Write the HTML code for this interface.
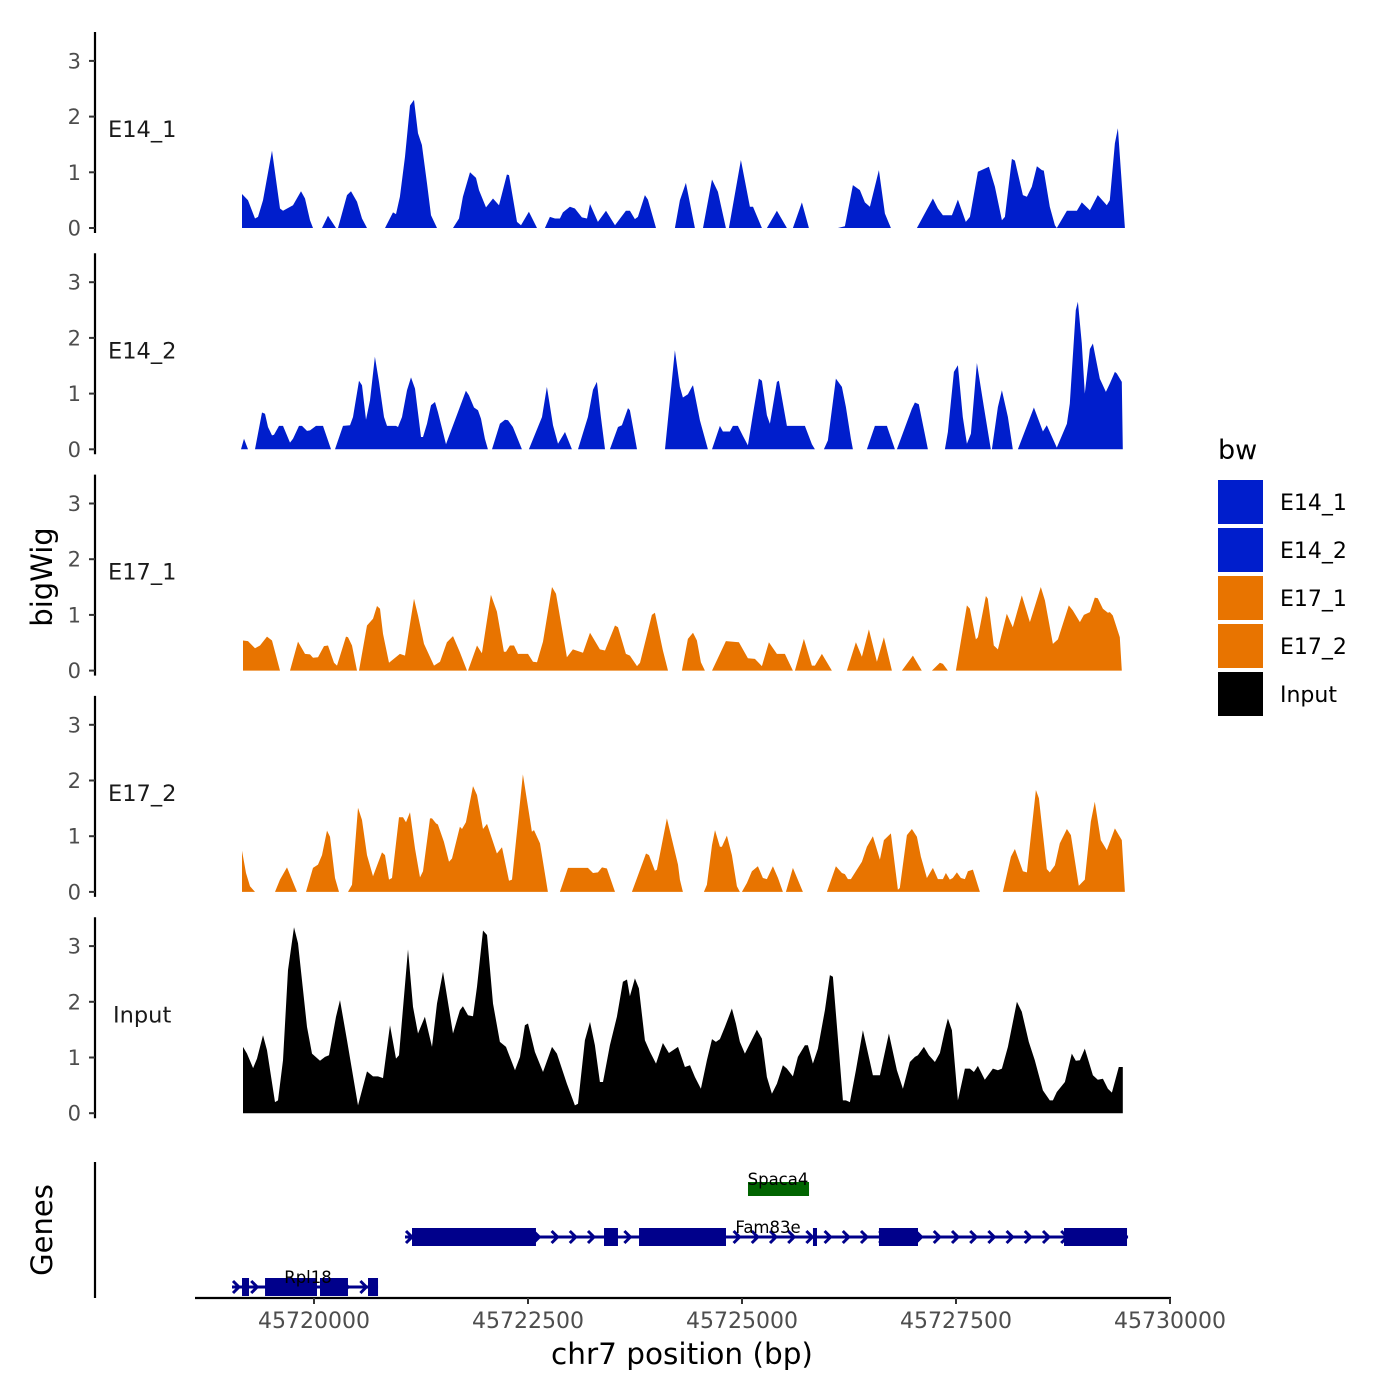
<!DOCTYPE html>
<html><head><meta charset="utf-8"><style>
html,body{margin:0;padding:0;background:#fff;}
svg{display:block;font-family:"DejaVu Sans","Liberation Sans",sans-serif;}
</style></head><body>
<svg id="chart" width="1400" height="1400" viewBox="0 0 1400 1400" xmlns="http://www.w3.org/2000/svg">
<rect width="1400" height="1400" fill="#fff"/>
<g id="tracks"></g>
<g id="genes"></g>
<g id="axes"></g>
<text x="0" y="0" transform="translate(52,577) rotate(-90)" text-anchor="middle" font-size="29" fill="#000">bigWig</text>
<text x="0" y="0" transform="translate(52,1230) rotate(-90)" text-anchor="middle" font-size="29" fill="#000">Genes</text>
<text x="682" y="1364" text-anchor="middle" font-size="29.5" fill="#000">chr7 position (bp)</text>
<g>
<text x="1218" y="459" font-size="27" fill="#000">bw</text>
<rect x="1218" y="480" width="45" height="44" fill="#001ecc"/>
<rect x="1218" y="528" width="45" height="44" fill="#001ecc"/>
<rect x="1218" y="576" width="45" height="44" fill="#e87400"/>
<rect x="1218" y="624" width="45" height="44" fill="#e87400"/>
<rect x="1218" y="672" width="45" height="44" fill="#000"/>
<text x="1280" y="510" font-size="22">E14_1</text>
<text x="1280" y="558" font-size="22">E14_2</text>
<text x="1280" y="606" font-size="22">E17_1</text>
<text x="1280" y="654" font-size="22">E17_2</text>
<text x="1280" y="702" font-size="22">Input</text>
</g>
</svg>
<script>
// positions are bp relative to ORIGIN (chr7:45720000); null separates covered segments
const ORIGIN = 45720000;
const trackNames = ["E14_1","E14_2","E17_1","E17_2","Input"];
const trackColors = ["#001ecc","#001ecc","#e87400","#e87400","#000000"];
const xTickValues = [45720000,45722500,45725000,45727500,45730000];
const yTickValues = [0,1,2,3];

const e14_1_pos = [-841,-771,-689,-654,-596,-491,-397,-362,-245,-152,-105,-47,-12,null,93,164,257,null,280,385,432,502,561,619,null,829,923,958,1004,1063,1121,1168,1215,1261,1320,1367,1437,null,1624,1694,1740,1822,1892,1927,2009,2091,2161,2254,2278,2371,2418,2511,2605,null,2698,2756,2815,2873,2908,2990,3048,3130,3189,3224,3317,3411,3516,3644,3691,3749,3784,3866,3901,3995,null,4216,4275,4345,4450,null,4544,4649,4719,4812,null,4847,4987,5092,5128,5233,null,5291,5408,5525,null,5595,5700,5782,null,6120,6202,6296,6377,6436,6494,6599,6669,6739,null,7043,7230,7288,7347,7452,7522,7615,7662,7756,7884,7954,8036,8071,8153,8188,8281,8328,8386,8445,8503,8526,8596,8655,8678,null,8678,8795,8912,8970,9064,9157,9262,9297,9356,9391,9473];
const e14_1_val = [.61,.5,.17,.2,.5,1.39,.35,.31,.41,.66,.53,.14,0,null,0,.22,0,null,0,.59,.66,.47,.17,0,null,0,.28,.25,.56,1.28,2.2,2.3,1.7,1.49,.8,.23,0,null,0,.17,.56,1.0,.9,.68,.37,.53,.41,.96,.95,.11,.05,.29,0,null,0,.2,.17,.17,.28,.38,.35,.19,.17,.43,.11,.31,.05,.31,.31,.16,.2,.59,.51,0,null,0,.5,.81,0,null,0,.87,.65,0,null,0,1.22,.38,.38,0,null,0,.31,0,null,0,.46,0,null,0,.03,.77,.68,.46,.38,1.04,.26,0,null,0,.53,.35,.23,.23,.51,.11,.2,1.01,1.1,.74,.14,.2,1.24,1.21,.59,.56,.74,1.11,1.04,1.03,.38,.05,0,null,0,.31,.31,.46,.32,.59,.41,.5,1.52,1.79,0];

const e14_2_pos = [-853,-818,-771,null,-689,-607,-572,-537,-491,-467,-409,-362,-280,-245,-175,-140,-82,-47,23,105,199,null,245,339,420,456,526,561,607,654,712,759,818,853,958,981,1028,1086,1133,1180,1250,1273,1320,1367,1413,1448,1542,1565,1682,1775,1810,1869,1916,1951,1997,2032,null,2079,2172,2231,2266,2324,2429,null,2511,2663,2721,2792,2850,2932,3013,null,3084,3200,3259,3305,3352,3399,null,3457,3551,3597,3668,3691,3773,null,4100,4216,4275,4310,4368,4415,4427,4508,4602,null,4649,4742,4777,4859,4894,4952,5011,5069,5128,5198,5233,5291,5326,5408,5431,5525,5735,5817,5852,null,5957,6004,6097,6167,6214,6272,6296,null,6459,6552,6693,6786,null,6809,6985,7020,7066,7172,null,7370,7405,7475,7522,7580,7627,7674,7744,7826,7907,null,7919,7989,8036,8106,8164,null,8223,8410,8515,8561,8678,8795,8830,8900,8924,8970,9005,9064,9099,9145,9180,9251,9297,9356,9379,9437,9449];
const e14_2_val = [0,.19,0,null,0,.66,.64,.4,.25,.26,.42,.42,.12,.19,.42,.42,.33,.34,.42,.42,0,null,0,.42,.43,.58,1.23,1.15,.53,.88,1.66,1.21,.58,.42,.42,.4,.58,1.06,1.29,1.09,.22,.22,.46,.79,.85,.67,.09,.19,.67,1.05,.97,.75,.7,.55,.19,0,null,0,.46,.53,.52,.4,0,null,0,.58,1.12,.43,.1,.31,0,null,0,.58,1.07,1.21,.58,0,null,0,.4,.43,.74,.7,0,null,0,1.78,1.12,.93,.99,1.12,1.15,.52,0,null,0,.42,.32,.32,.42,.42,.24,.07,.64,1.27,1.23,.61,.46,1.21,1.23,.42,.42,.09,0,null,0,.16,1.27,1.12,.76,.19,0,null,0,.42,.42,0,null,0,.73,.84,.81,0,null,0,.31,1.39,1.51,.58,.1,.28,1.55,.76,0,null,0,.76,1.06,.58,0,null,0,.75,.32,.43,.03,.46,.82,2.5,2.65,1.9,1.0,1.8,1.9,1.54,1.27,1.03,1.18,1.39,1.36,1.21,0];

const e17_1_pos = [-829,-771,-689,-631,-549,-491,-397,null,-280,-187,-105,-47,-12,47,117,164,234,269,374,397,444,502,null,526,619,689,736,771,806,876,1004,1063,1168,1215,1285,1402,1472,1553,1624,1705,1787,null,1799,1904,1962,2067,2137,2219,2243,2289,2336,2383,2500,2558,2605,2675,2780,2827,2955,3025,3142,3224,3340,3399,3516,3551,3644,3691,3773,3808,3948,3983,4076,4135,null,4298,4368,4427,4473,4520,4567,null,4649,4812,4964,5069,5151,5233,5314,5408,5501,5595,null,5618,5723,5817,5852,5933,6050,null,6225,6331,6401,6482,6576,6658,6751,null,6868,6996,7101,null,7218,7312,7347,7405,null,7499,7627,7662,7732,7756,7849,7872,7942,7989,8094,8164,8269,8363,8491,8538,8632,8690,8818,8865,8947,8994,9064,9122,9157,9216,9274,9297,9332,9414,9437];
const e17_1_val = [.54,.53,.4,.45,.61,.54,0,null,0,.52,.3,.29,.23,.24,.44,.45,.14,.09,.61,.6,.45,0,null,0,.81,.93,1.16,1.11,.66,.14,.3,.27,1.29,.99,.48,.09,.16,.51,.62,.33,0,null,0,.45,.31,1.36,1.06,.34,.34,.45,.45,.3,.3,.16,.15,.52,1.5,1.38,.24,.38,.32,.68,.38,.36,.81,.78,.3,.27,.08,.14,1.0,1.04,.36,0,null,0,.57,.68,.54,.15,0,null,0,.53,.51,.22,.21,.08,.51,.3,.3,0,null,0,.57,.09,.09,.3,0,null,0,.51,.25,.74,.16,.6,0,null,0,.27,0,null,0,.14,.12,0,null,0,1.17,1.11,.56,.6,1.34,1.29,.45,.38,1.02,.78,1.35,.87,1.5,1.26,.48,.56,1.17,1.08,.87,1.0,1.05,1.31,1.3,1.11,1.04,1.05,.99,.6,0];

const e17_2_pos = [-841,-794,-748,-689,null,-456,-397,-315,-257,-199,null,-93,-12,47,93,152,187,245,292,null,397,444,514,561,619,689,794,829,876,911,993,1040,1075,1121,1180,1238,1273,1355,1378,1425,1448,1518,1577,1612,1705,1729,1775,1857,1904,1974,2021,2137,2196,2278,2313,2441,2546,2570,2640,2733,null,2873,2967,3200,3259,3317,3364,3422,3516,null,3714,3878,3913,3983,4006,4123,4252,4275,4310,null,4555,4590,4649,4684,4742,4765,4824,4882,4941,4976,null,4999,5057,5116,5186,5244,5291,5361,5420,5478,null,5513,5595,5712,null,5992,6097,6167,6202,6237,6272,6342,6401,6459,6529,6611,6658,6739,6821,6844,6926,6985,7043,7090,7160,7230,7288,7347,7382,7428,7463,7510,7557,7604,7639,7697,7779,null,8048,8141,8188,8281,8328,8433,8468,8561,8596,8655,8713,8795,8842,8935,9005,9075,9122,9192,9262,9356,9437,9473];
const e17_2_val = [.74,.34,.1,0,null,0,.22,.44,.22,0,null,0,.43,.49,.66,1.1,.99,.25,0,null,0,.13,1.51,1.29,.66,.28,.71,.66,.22,.25,1.34,1.34,1.25,1.43,.78,.26,.37,1.32,1.32,1.23,1.21,.9,.54,.6,1.17,1.13,1.25,1.9,1.74,1.13,1.22,.69,.8,.2,.22,2.11,1.08,1.11,.87,0,null,0,.43,.43,.34,.35,.44,.42,0,null,0,.69,.66,.38,.4,1.32,.49,.22,0,null,0,.13,.84,1.11,.81,.81,1.01,.66,.1,0,null,0,.16,.37,.46,.25,.23,.46,.25,0,null,0,.43,0,null,0,.46,.34,.32,.23,.23,.4,.54,.81,1.0,.58,.93,1.05,.04,.07,1.02,1.13,.99,.63,.25,.43,.23,.23,.34,.22,.25,.35,.25,.23,.37,.4,0,null,0,.63,.77,.37,.35,1.83,1.68,.41,.35,.48,.87,1.13,1.02,.11,.22,1.26,1.62,.93,.75,1.14,.93,0];

const input_pos = [-829,-783,-712,-666,-596,-549,-456,-420,-362,-304,-234,-187,-82,-23,70,128,175,257,304,385,514,619,689,748,806,888,958,993,1098,1156,1215,1296,1378,1437,1507,1542,1624,1705,1740,1799,1857,1904,1974,2021,2091,2172,2243,2348,2406,2464,2500,2581,2675,2780,2838,2955,3048,3084,3165,3224,3282,3340,3376,3457,3539,3609,3656,3691,3749,3796,3866,3925,3995,4076,4146,4252,4333,4392,4450,4520,4590,4649,4695,4742,4800,4882,4929,4976,5034,5092,5174,5233,5291,5349,5408,5478,5525,5595,5653,5735,5770,5828,5887,5968,6027,6062,6132,6179,6214,6260,6331,6412,6529,6611,6716,6809,6880,6961,7020,7055,7125,7183,7253,7312,7370,7405,7452,7522,7604,7662,7709,7756,7837,7931,7989,8036,8106,8211,8269,8351,8421,8515,8596,8632,8678,8772,8853,8900,8947,9005,9099,9157,9216,9274,9321,9402,9449];
const input_val = [1.19,1.07,.81,.98,1.4,1.13,.2,.23,.95,2.57,3.34,3.05,1.55,1.07,.94,1.01,1.04,1.73,2.03,1.31,.14,.75,.66,.66,.63,1.58,.98,1.04,2.94,1.91,1.43,1.73,1.19,1.97,2.54,2.21,1.43,1.85,1.92,1.76,1.74,2.27,3.28,3.2,1.97,1.28,1.19,.77,1.01,1.58,1.61,1.1,.74,1.19,1.07,.53,.14,.17,1.31,1.64,1.22,.56,.56,1.22,1.73,2.36,2.4,2.1,2.42,2.24,1.31,1.1,.89,1.26,1.08,1.19,.83,.86,.65,.44,.95,1.33,1.28,1.33,1.55,1.88,1.61,1.28,1.07,1.25,1.5,1.34,.65,.35,.53,.86,.8,.66,1.01,1.22,1.22,.89,1.16,1.85,2.48,2.45,1.13,.23,.23,.2,.77,1.49,.68,.68,1.43,.77,.44,.92,1.01,1.04,1.19,1.04,.92,1.08,1.49,1.7,1.49,.23,.8,.8,.74,.85,.6,.8,.77,.8,1.19,2.0,1.82,1.28,.95,.41,.23,.23,.38,.56,1.07,.94,.95,1.16,.68,.6,.62,.44,.37,.83,.83];

const trackPos = [e14_1_pos,e14_2_pos,e17_1_pos,e17_2_pos,input_pos];
const trackVal = [e14_1_val,e14_2_val,e17_1_val,e17_2_val,input_val];

// gene models (bp)
const geneNames = ["Spaca4","Fam83e","Rpl18"];
const geneStart = [45725070,45721063,45719042];
const geneEnd = [45725783,45729510,45720748];
const exonStarts = [[45725070],[45721145,45723388,45723797,45725829,45726600,45728762],[45719159,45719428,45720070,45720631]];
const exonEnds = [[45725783],[45722593,45723551,45724813,45725876,45727056,45729498],[45719241,45720035,45720397,45720748]];

// scales
const X0 = 314, XPX = 856/10000;
function xs(bp){ return X0 + (bp - 45720000)*XPX; }
const PANEL_ZERO = [228,449.3,670.6,891.9,1113.2];
const YPX = 55.7;
function ys(p,v){ return PANEL_ZERO[p] - v*YPX; }

const NS = "http://www.w3.org/2000/svg";
function mk(tag, attrs, parent){
  const e = document.createElementNS(NS, tag);
  for (const k in attrs) e.setAttribute(k, attrs[k]);
  parent.appendChild(e); return e;
}
const tracksG = document.getElementById('tracks');
const axesG = document.getElementById('axes');

for (let p = 0; p < trackNames.length; p++){
  const pos = trackPos[p], val = trackVal[p];
  let d = "", seg = [];
  const flush = () => {
    if (seg.length){
      const base = ys(p,0).toFixed(1);
      d += "M" + xs(seg[0][0] + ORIGIN).toFixed(1) + "," + base;
      seg.forEach(s => { d += "L" + xs(s[0] + ORIGIN).toFixed(1) + "," + ys(p, s[1]).toFixed(1); });
      d += "L" + xs(seg[seg.length-1][0] + ORIGIN).toFixed(1) + "," + base + "Z";
    }
    seg = [];
  };
  for (let i = 0; i < pos.length; i++){
    if (pos[i] === null || val[i] === null) flush(); else seg.push([pos[i], val[i]]);
  }
  flush();
  const path = mk('path', {d: d, fill: trackColors[p], stroke: 'none'}, tracksG);
  
  

  const top = PANEL_ZERO[p] - 196, bot = PANEL_ZERO[p] + 5;
  const axl = mk('line', {x1:95, x2:95, y1:top, y2:bot, stroke:'#000', 'stroke-width':2.2}, axesG);
  
  
  yTickValues.forEach(t => {
    const y = ys(p, t);
    const tk = mk('line', {x1:89, x2:95, y1:y, y2:y, stroke:'#333', 'stroke-width':2}, axesG);
    
    
    const tl = mk('text', {x:81, y:y+7.5, 'text-anchor':'end', 'font-size':21, fill:'#4d4d4d'}, axesG);
    
    
    tl.textContent = t;
  });
  const lab = mk('text', {x: p===4 ? 113 : 108, y: ys(p, 1.65) + 1, 'text-anchor':'start', 'font-size':22.5, fill:'#1a1a1a'}, axesG);
  
  
  lab.textContent = trackNames[p];
}

const gl = mk('line', {x1:95, x2:95, y1:1162, y2:1298, stroke:'#000', 'stroke-width':2.2}, axesG);


const xl = mk('line', {x1:195, x2:1171, y1:1298, y2:1298, stroke:'#000', 'stroke-width':2.2}, axesG);


xTickValues.forEach(t => {
  const x = xs(t);
  const tk = mk('line', {x1:x, x2:x, y1:1298, y2:1304, stroke:'#333', 'stroke-width':2}, axesG);
  
  
  const tl = mk('text', {x:x, y:1328, 'text-anchor':'middle', 'font-size':22, fill:'#4d4d4d'}, axesG);
  
  
  tl.textContent = t;
});

const genesG = document.getElementById('genes');
const geneRowY = [1189, 1237, 1287];
const geneColor = ["#006400","#00008b","#00008b"];
const labelDx = [778, 768, 308];
for (let g = 0; g < geneNames.length; g++){
  const y = geneRowY[g], c = geneColor[g];
  const gg = mk('g', {}, genesG);
  
  
  const x1 = xs(geneStart[g]), x2 = xs(geneEnd[g]);
  mk('line', {x1:x1, x2:x2, y1:y, y2:y, stroke:c, 'stroke-width':3}, gg);
  if (g > 0){
    for (let x = x1 + 4; x < x2 - 4; x += 18.2){
      mk('path', {d:`M${x-3},${y-6}L${x+3},${y}L${x-3},${y+6}`, fill:'none', stroke:c, 'stroke-width':3}, gg);
    }
  }
  for (let e = 0; e < exonStarts[g].length; e++){
    const ex = mk('rect', {x:xs(exonStarts[g][e]), y:y-9, width:xs(exonEnds[g][e]) - xs(exonStarts[g][e]), height: g===0 ? 14 : 18, fill:c}, gg);
    if (g===0) ex.setAttribute('y', y-7);
    
    
  }
  const t = mk('text', {x: labelDx[g], y: y - 4, 'text-anchor':'middle', 'font-size':16.5, fill:'#000'}, gg);
  
  
  t.textContent = geneNames[g];
}
</script>
</body></html>
